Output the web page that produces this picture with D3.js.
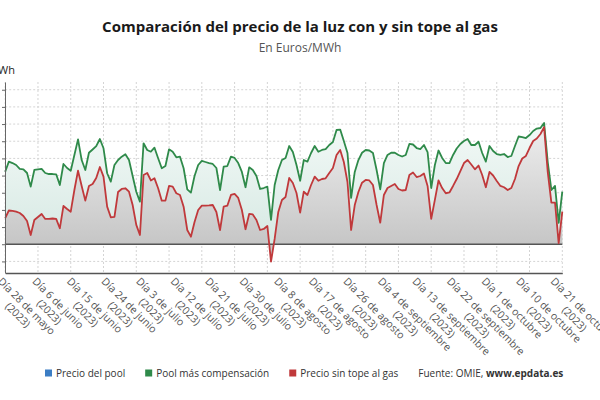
<!DOCTYPE html>
<html><head><meta charset="utf-8">
<script src="https://cdn.jsdelivr.net/npm/d3@7"></script>
<style>body{margin:0;background:#fff}svg{display:block;font-family:"Open Sans",sans-serif}</style>
</head><body><svg id="c" width="600" height="400"></svg>
<script>
// ---- data ----
const startDate = "2023-05-28";
const tickLabels = ["28 de mayo","6 de junio","15 de junio","24 de junio","3 de julio","12 de julio","21 de julio","30 de julio","8 de agosto","17 de agosto","26 de agosto","4 de septiembre","13 de septiembre","22 de septiembre","1 de octubre","10 de octubre","21 de octubre"];
const tickYear = "(2023)";
const poolMasCompensacion = [84.5,96.2,94.6,92.3,87.7,87.3,83.0,67.1,86.5,87.3,87.7,83.0,81.8,81.8,81.5,69.0,93.5,88.8,85.7,104.0,
122.2,98.1,86.5,106.6,110.4,114.4,122.6,111.8,82.7,72.9,92.3,98.1,102.0,104.8,98.1,79.5,61.2,49.6,117.6,109.8,
107.8,112.5,100.1,88.5,91.1,110.6,107.8,101.3,102.0,88.5,64.0,60.1,79.5,92.3,97.0,95.8,94.6,93.5,88.8,63.2,
90.3,91.1,102.0,100.5,94.6,84.2,66.4,89.6,86.5,79.5,64.4,65.5,67.1,28.3,69.0,86.5,98.1,100.5,114.4,107.4,
92.3,74.0,98.1,96.2,106.3,114.4,107.8,109.8,110.9,115.6,119.1,133.1,133.6,120.3,106.3,53.9,84.2,98.1,106.6,109.8,
109.2,106.3,86.5,64.0,94.6,104.0,106.6,106.6,104.0,102.2,104.0,116.8,116.2,112.1,110.9,115.6,107.4,65.5,92.3,109.2,
100.5,94.6,94.6,104.0,111.5,116.8,120.3,122.6,115.6,115.6,119.4,106.3,96.2,114.4,108.6,105.1,104.0,105.1,101.6,102.8,
114.4,125.5,124.9,123.7,127.2,131.9,134.8,135.4,141.2,95.8,63.2,67.9,24.8,61.2];
const precioSinTope = [30.3,39.3,38.8,37.9,36.4,32.9,27.1,10.8,28.3,31.8,35.3,29.5,29.5,30.0,29.5,18.6,44.6,41.1,37.9,63.2,
85.7,67.9,50.8,67.9,70.2,77.2,90.0,78.7,43.8,31.4,31.8,60.9,64.4,65.2,61.2,45.7,22.5,10.8,80.7,83.0,
74.3,76.8,65.2,50.8,50.8,67.9,67.1,59.4,57.4,43.8,16.6,8.8,26.0,39.9,44.9,44.9,45.2,45.7,37.6,16.6,
43.8,44.9,57.4,58.6,53.9,39.9,17.5,35.3,34.7,28.3,16.6,17.8,21.3,-20.3,6.2,37.6,51.6,55.1,77.2,71.4,
59.7,36.8,61.2,57.4,69.0,78.7,74.0,76.0,76.8,83.0,88.8,104.0,109.8,95.8,72.5,16.6,45.7,60.9,71.7,74.9,
74.3,69.0,45.7,25.1,57.4,65.5,67.9,70.2,64.4,62.6,63.2,80.7,83.6,78.3,79.5,82.4,67.9,29.5,51.6,74.3,
65.5,59.4,60.3,67.9,76.0,85.3,94.6,98.1,92.9,87.3,91.7,80.7,66.4,84.2,80.1,73.7,67.9,66.4,63.2,65.5,
76.0,91.1,99.9,102.8,112.1,120.3,123.2,128.4,136.5,84.2,48.4,48.4,1.2,37.9];
const seriesNames = ["Precio del pool","Pool más compensación","Precio sin tope al gas"];
const seriesColors = ["#3b7dc4","#2f8a4a","#c0393b"];
const yTicks = [-20,0,20,40,60,80,100,120,140,160,180];

// ---- build ----
const N = poolMasCompensacion.length;
const svg = d3.select("#c");
const x = d3.scaleLinear().domain([0, N-1]).range([5.2, 562.3]);
const y = d3.scaleLinear().domain([-33.5, 189]).range([273, 82]);
const gridIdx = d3.range(0, N, 9);

const defs = svg.append("defs");
function grad(id, c0, c1){
  const g = defs.append("linearGradient").attr("id",id).attr("gradientUnits","userSpaceOnUse")
    .attr("x1",0).attr("x2",0).attr("y1",y(140)).attr("y2",y(0));
  g.append("stop").attr("offset",0).attr("stop-color",c0);
  g.append("stop").attr("offset",1).attr("stop-color",c1);
}
grad("gGreen","#f3f9f7","#d6e9e3");
grad("gGrey","#eeeeee","#c6c6c6");

// title
svg.append("text").attr("x",300).attr("y",32).attr("text-anchor","middle")
  .style("font-size","15px").style("font-weight","700").attr("fill","#1a1a1a")
  .text("Comparación del precio de la luz con y sin tope al gas");
svg.append("text").attr("x",300).attr("y",52).attr("text-anchor","middle")
  .style("font-size","12px").attr("fill","#555").text("En Euros/MWh");
svg.append("text").attr("x",15).attr("y",74).attr("text-anchor","end")
  .style("font-size","11px").attr("fill","#222").text("€/MWh");

// grid
const grid = svg.append("g").attr("stroke","#d4d4d4").attr("stroke-dasharray","2,2").attr("stroke-width",1);
grid.selectAll("line.h").data(yTicks).join("line").attr("class","h")
  .attr("x1",x(0)).attr("x2",x(N-1)).attr("y1",d=>y(d)).attr("y2",d=>y(d));
grid.selectAll("line.v").data(gridIdx).join("line").attr("class","v")
  .attr("x1",d=>x(d)).attr("x2",d=>x(d)).attr("y1",y.range()[1]).attr("y2",y.range()[0]);

// areas
const area = vals => d3.area().x((d,i)=>x(i)).y0(y(0)).y1(d=>y(d))(vals);
svg.append("path").attr("d",area(poolMasCompensacion)).attr("fill","url(#gGreen)");
svg.append("path").attr("d",area(precioSinTope)).attr("fill","url(#gGrey)");

// zero line
svg.append("line").attr("x1",x(0)).attr("x2",x(N-1)).attr("y1",y(0)).attr("y2",y(0))
  .attr("stroke","#555").attr("stroke-width",1.5);

// lines
const line = d3.line().x((d,i)=>x(i)).y(d=>y(d));
svg.append("path").attr("d",line(poolMasCompensacion)).attr("fill","none")
  .attr("stroke",seriesColors[1]).attr("stroke-width",1.8).attr("stroke-linejoin","round");
svg.append("path").attr("d",line(precioSinTope)).attr("fill","none")
  .attr("stroke",seriesColors[2]).attr("stroke-width",1.8).attr("stroke-linejoin","round");

// axes
const ya = svg.append("g").attr("transform","translate(5,0)")
  .call(d3.axisLeft(y).tickValues(yTicks).tickSize(3).tickSizeOuter(0).tickFormat(""));
ya.selectAll("path,line").attr("stroke","#666");
const xa = svg.append("g").attr("transform","translate(0,273)")
  .call(d3.axisBottom(x).tickValues(gridIdx).tickSize(0).tickSizeOuter(0).tickFormat(""));
xa.select("path").attr("stroke","#555").attr("stroke-width",1.5);

// x labels
const lx = d3.scalePoint().domain(tickLabels).range([5.2, 5.2+16*34.55]);
const lab = svg.append("g").selectAll("g").data(tickLabels).join("g")
  .attr("transform",d=>`translate(${lx(d)-8},282) rotate(45)`)
  .style("font-size","10.5px").attr("fill","#555");
lab.each(function(d){
  const g = d3.select(this);
  const t1 = g.append("text").attr("x",0).attr("y",0).text("Día "+d);
  const w = t1.node().getComputedTextLength();
  g.append("text").attr("x",w/2).attr("y",12.5).attr("text-anchor","middle").text(tickYear);
});

// legend
const leg = svg.append("g").attr("transform","translate(45,377)").style("font-size","10px");
let cx = 0;
seriesNames.forEach((n,i)=>{
  leg.append("rect").attr("x",cx).attr("y",-7.5).attr("width",7).attr("height",7).attr("fill",seriesColors[i]);
  const t = leg.append("text").attr("x",cx+11).attr("y",0).attr("fill","#333").text(n);
  cx += 11 + t.node().getComputedTextLength() + 20;
});
const src = leg.append("text").attr("x",cx).attr("y",0).attr("fill","#333");
src.append("tspan").text("Fuente: OMIE, ");
src.append("tspan").style("font-weight","700").text("www.epdata.es");
</script></body></html>
